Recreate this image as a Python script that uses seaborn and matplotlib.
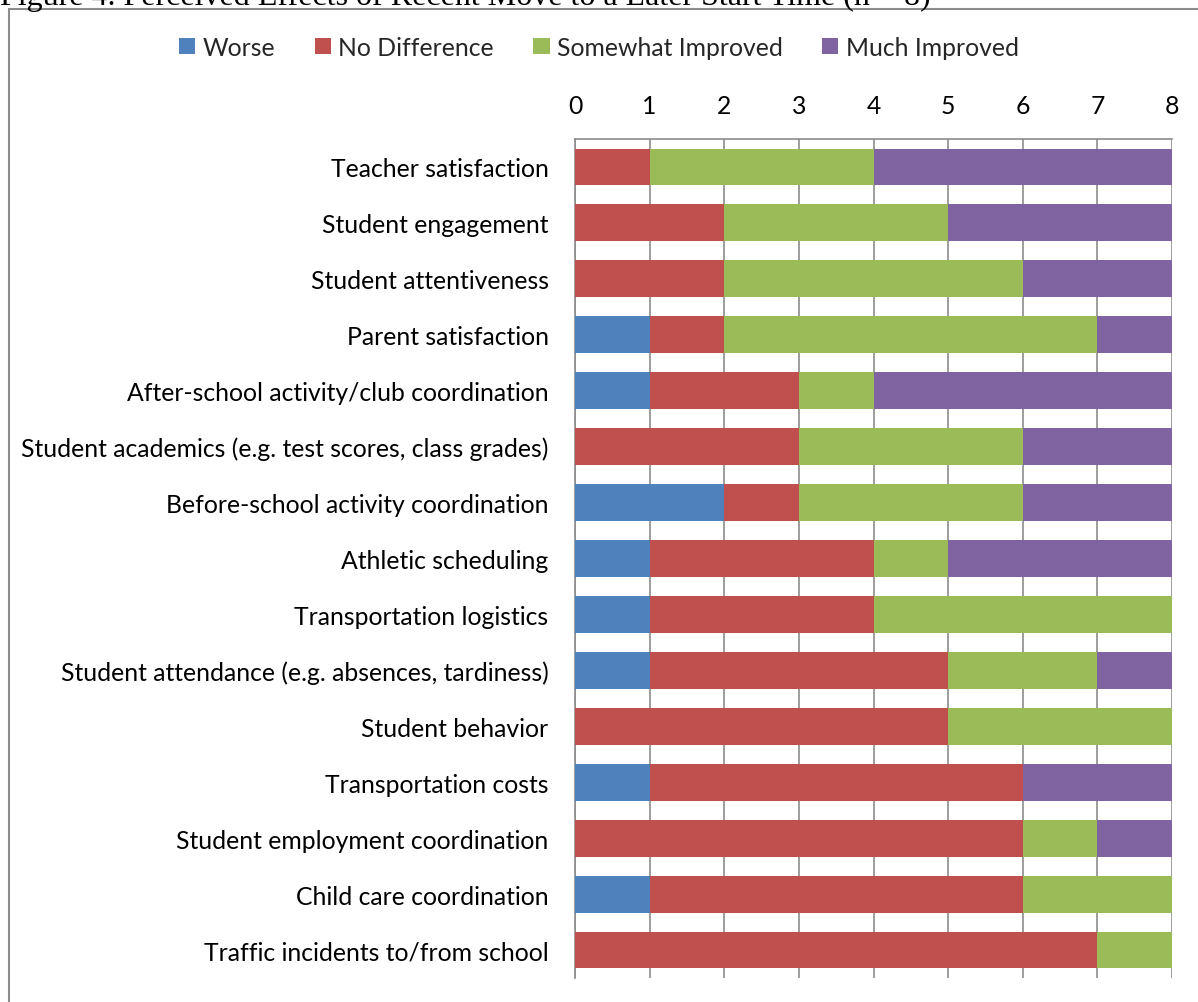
import matplotlib
matplotlib.use("Agg")
import matplotlib.pyplot as plt
import seaborn as sns
import pandas as pd
import numpy as np
from matplotlib.patches import Rectangle, Patch

categories = [
    "Teacher satisfaction",
    "Student engagement",
    "Student attentiveness",
    "Parent satisfaction",
    "After-school activity/club coordination",
    "Student academics (e.g. test scores, class grades)",
    "Before-school activity coordination",
    "Athletic scheduling",
    "Transportation logistics",
    "Student attendance (e.g. absences, tardiness)",
    "Student behavior",
    "Transportation costs",
    "Student employment coordination",
    "Child care coordination",
    "Traffic incidents to/from school",
]
worse = [0, 0, 0, 1, 1, 0, 2, 1, 1, 1, 0, 1, 0, 1, 0]
no_difference = [1, 2, 2, 1, 2, 3, 1, 3, 3, 4, 5, 5, 6, 5, 7]
somewhat_improved = [3, 3, 4, 5, 1, 3, 3, 1, 4, 2, 3, 0, 1, 2, 1]
much_improved = [4, 3, 2, 1, 4, 2, 2, 3, 0, 1, 0, 2, 1, 0, 0]
series_names = ["Worse", "No Difference", "Somewhat Improved", "Much Improved"]
colors = ["#4F81BD", "#C0504D", "#9BBB59", "#8064A2"]
x_ticks = [0, 1, 2, 3, 4, 5, 6, 7, 8]
title = "Figure 4. Perceived Effects of Recent Move to a Later Start Time (n = 8)"

df = pd.DataFrame({
    "category": categories,
    series_names[0]: worse,
    series_names[1]: no_difference,
    series_names[2]: somewhat_improved,
    series_names[3]: much_improved,
})
cum = df[series_names].cumsum(axis=1)

sns.set_theme(style="white")
plt.rcParams["font.family"] = ["Lato", "DejaVu Sans"]

W, H = 1198, 1003
fig = plt.figure(figsize=(W / 100, H / 100), dpi=100)
ax = fig.add_axes([575 / W, 1 - 979 / H, (1172 - 575) / W, (979 - 140) / H])

# Stacked by overlaying cumulative totals, widest first
for name, col in reversed(list(zip(series_names, colors))):
    sns.barplot(x=cum[name], y=df["category"], color=col, orient="h",
                width=0.66, ax=ax, saturation=1, edgecolor="none", zorder=3)

FS = 17.8
ax.set_xlim(0, 8)
ax.set_ylim(len(categories) - 0.5, -0.5)
ax.set_xticks(x_ticks)
ax.xaxis.tick_top()
ax.xaxis.set_label_position("top")
ax.set_xlabel("")
ax.set_ylabel("")
ax.tick_params(axis="x", length=0, pad=16, labelsize=FS, colors="black")
ax.tick_params(axis="y", length=0, pad=19, labelsize=FS, colors="black")
ax.grid(axis="x", color="#8c8c8c", linewidth=1.2, zorder=0)
ax.set_axisbelow(True)
for s in ["right", "bottom"]:
    ax.spines[s].set_visible(False)
for s in ["top", "left"]:
    ax.spines[s].set_color("#8c8c8c")
    ax.spines[s].set_linewidth(1.2)

handles = [Patch(facecolor=c, edgecolor="none", label=n) for n, c in zip(series_names, colors)]
fig.legend(handles=handles, loc="center", bbox_to_anchor=(0.5, 1 - 48 / H), ncol=4,
           frameon=False, fontsize=FS, handlelength=0.65, handleheight=0.65,
           handletextpad=0.3, columnspacing=1.6)

# outer chart frame
fig.patches.append(Rectangle((9 / W, -0.01), 1.0, 1 - 10 / H + 0.01, transform=fig.transFigure,
                             fill=False, edgecolor="#8c8c8c", linewidth=1.5))
fig.text(0.0, 1 - 5 / H, title, family=["Liberation Serif", "DejaVu Serif"], fontsize=23,
         va="baseline", ha="left", color="black")

fig.savefig("out.png", dpi=100)
